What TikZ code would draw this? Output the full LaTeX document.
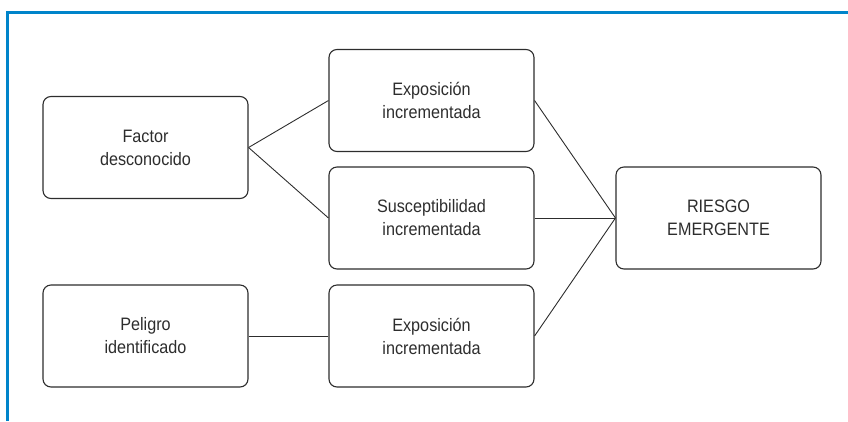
\documentclass[tikz,border=0pt]{standalone}
\usepackage{fontspec}
\setmainfont{Liberation Sans}[FakeStretch=0.9]
\definecolor{marco}{RGB}{0,132,202}
\definecolor{texto}{RGB}{45,45,45}
\begin{document}
\begin{tikzpicture}[x=1pt, y=-1pt,
  caja/.style={shape=rectangle, draw=texto, line width=1.1pt, rounded corners=8pt,
    minimum width=205pt, minimum height=102pt, align=center, text=texto,
    font=\fontsize{18}{23}\selectfont},
  enlace/.style={draw=texto, line width=0.9pt}]
\useasboundingbox (0,0) rectangle (848,421);
\draw[marco, line width=3pt] (7,421) -- (7,12) -- (848,12);
\node[caja] (N1) at (145.5, 147.5) {Factor\\desconocido};
\node[caja] (N2) at (431.5, 100.5) {Exposición\\incrementada};
\node[caja] (N3) at (431.5, 218) {Susceptibilidad\\incrementada};
\node[caja] (N4) at (145.5, 336) {Peligro\\identificado};
\node[caja] (N5) at (431.5, 336) {Exposición\\incrementada};
\node[caja] (N6) at (718.5, 218) {RIESGO\\EMERGENTE};
\draw[enlace] (N1.east) -- (N2.west);
\draw[enlace] (N1.east) -- (N3.west);
\draw[enlace] (N4.east) -- (N5.west);
\draw[enlace] (N2.east) -- (N6.west);
\draw[enlace] (N3.east) -- (N6.west);
\draw[enlace] (N5.east) -- (N6.west);
\end{tikzpicture}
\end{document}
